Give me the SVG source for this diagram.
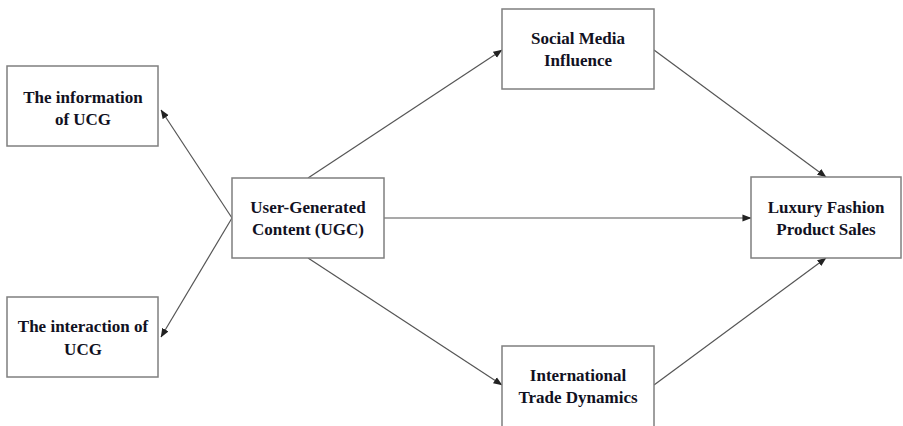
<svg xmlns="http://www.w3.org/2000/svg" width="903" height="426" viewBox="0 0 903 426">
  <style>
    .box { fill: #ffffff; stroke: #7f7f7f; stroke-width: 1.5; }
    .lbl { font-family: 'Liberation Serif', 'Times New Roman', Times, serif; font-weight: 700; font-size: 17px; fill: #111122; text-anchor: middle; }
    .edge { fill: none; stroke: #555555; stroke-width: 1.2; marker-end: url(#arrow); }
  </style>
  <defs>
    <marker id="arrow" viewBox="0 0 10 10" refX="9.5" refY="5" markerWidth="9" markerHeight="9" markerUnits="userSpaceOnUse" orient="auto">
      <path d="M0,1 L10,5 L0,9 Z" fill="#222222"/>
    </marker>
  </defs>
  <rect width="903" height="426" fill="#ffffff"/>

  <g id="connectors">
    <line class="edge" x1="232" y1="218" x2="161" y2="110"/>
    <line class="edge" x1="232" y1="218" x2="161" y2="337"/>
    <line class="edge" x1="308" y1="178" x2="502" y2="50"/>
    <line class="edge" x1="384" y1="218" x2="751" y2="218"/>
    <line class="edge" x1="308" y1="258" x2="502" y2="385"/>
    <line class="edge" x1="654" y1="50" x2="826" y2="177"/>
    <line class="edge" x1="654" y1="385" x2="826" y2="258"/>
  </g>

  <g id="info-ucg">
    <rect class="box" x="7" y="66" width="151" height="80"/>
    <text class="lbl" x="83" y="103">The information</text>
    <text class="lbl" x="83" y="125">of UCG</text>
  </g>

  <g id="interaction-ucg">
    <rect class="box" x="7" y="297" width="151" height="80"/>
    <text class="lbl" x="83" y="332">The interaction of</text>
    <text class="lbl" x="83" y="355">UCG</text>
  </g>

  <g id="ugc">
    <rect class="box" x="232" y="178" width="152" height="80"/>
    <text class="lbl" x="308" y="213">User-Generated</text>
    <text class="lbl" x="308" y="235">Content (UGC)</text>
  </g>

  <g id="social-media">
    <rect class="box" x="502" y="9" width="152" height="80"/>
    <text class="lbl" x="578" y="44">Social Media</text>
    <text class="lbl" x="578" y="66">Influence</text>
  </g>

  <g id="trade">
    <rect class="box" x="502" y="346" width="152" height="82"/>
    <text class="lbl" x="578" y="381">International</text>
    <text class="lbl" x="578" y="403">Trade Dynamics</text>
  </g>

  <g id="luxury-sales">
    <rect class="box" x="751" y="177" width="150" height="81"/>
    <text class="lbl" x="826" y="213">Luxury Fashion</text>
    <text class="lbl" x="826" y="235">Product Sales</text>
  </g>
</svg>
